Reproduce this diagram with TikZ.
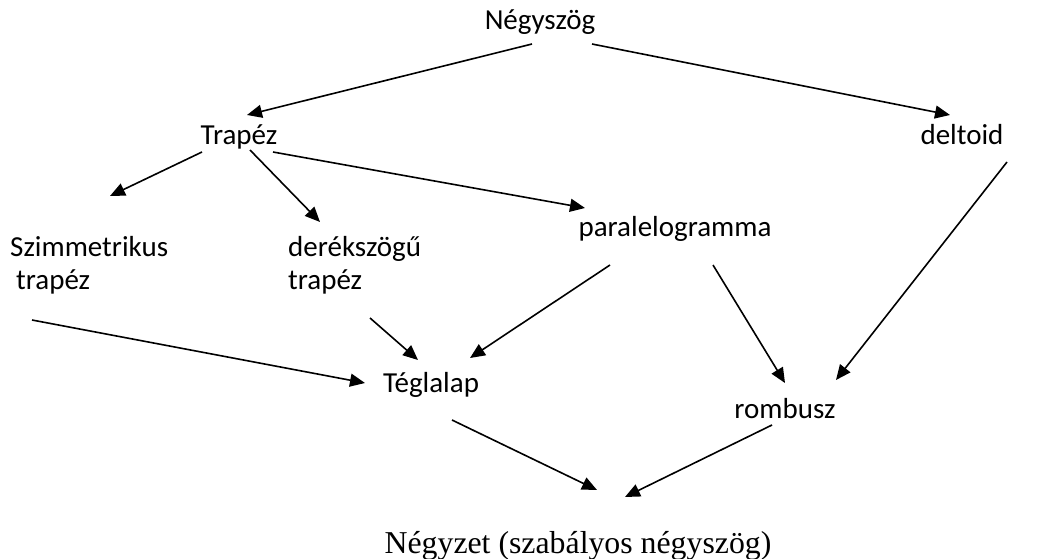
\documentclass[tikz,border=0pt]{standalone}
\usepackage{fontspec}
\setmainfont{Carlito}
\newfontfamily\timesfont{Liberation Serif}
\usetikzlibrary{arrows.meta}

\begin{document}
\begin{tikzpicture}[x=1pt, y=-1pt,
	lbl/.style={inner sep=0pt, font=\fontsize{29}{33}\selectfont, align=left},
	arr/.style={line width=1.6pt, -{Triangle[length=15pt, width=13pt]}}]
		%%%%% START %%%%%
		\useasboundingbox (0, 0) rectangle (1039, 559);
		
		\node[lbl, anchor=base] (negyszog) at (540, 30) {Négyszög};
		\node[lbl, anchor=base] (trapez) at (239, 145) {Trapéz};
		\node[lbl, anchor=base] (deltoid) at (962, 145) {deltoid};
		
		\node[lbl, anchor=north west] (szimm) at (10, 236) {Szimmetrikus\\\hspace{6pt}trapéz};
		\node[lbl, anchor=north west] (derek) at (288, 236) {derékszögű\\trapéz};
		\node[lbl, anchor=base] (para) at (675, 236) {paralelogramma};
		
		\node[lbl, anchor=base] (teglalap) at (431, 392) {Téglalap};
		\node[lbl, anchor=base] (rombusz) at (785, 418) {rombusz};
		
		\node[inner sep=0pt, anchor=base, font=\timesfont\fontsize{31.8}{38}\selectfont] (negyzet) at (578, 553) {Négyzet (szabályos négyszög)};
		
		\draw[arr] ([shift={(-8, 14)}]negyszog.base) -- ([shift={(8, -30)}]trapez.base);
		\draw[arr] ([shift={(52, 14)}]negyszog.base) -- ([shift={(-12, -30)}]deltoid.base);
		
		\draw[arr] ([shift={(-37, 7)}]trapez.base) -- ([shift={(100, -40)}]szimm.north west);
		\draw[arr] ([shift={(11, 5)}]trapez.base) -- ([shift={(32, -14)}]derek.north west);
		\draw[arr] ([shift={(34, 7)}]trapez.base) -- ([shift={(-90, -28)}]para.base);
		\draw[arr] ([shift={(45, 17)}]deltoid.base) -- ([shift={(51, -38)}]rombusz.base);
		
		\draw[arr] ([shift={(-65, 29)}]para.base) -- ([shift={(39, -34)}]teglalap.base);
		\draw[arr] ([shift={(38, 29)}]para.base) -- ([shift={(0, -35)}]rombusz.base);
		\draw[arr] ([shift={(22, 84)}]szimm.north west) -- ([shift={(-66, -9)}]teglalap.base);
		\draw[arr] ([shift={(82, 82)}]derek.north west) -- ([shift={(-13, -32)}]teglalap.base);
		
		\draw[arr] ([shift={(21, 28)}]teglalap.base) -- ([shift={(19, -63)}]negyzet.base);
		\draw[arr] ([shift={(-13, 7)}]rombusz.base) -- ([shift={(47, -56)}]negyzet.base);
		
		%%%%% END %%%%%
	\end{tikzpicture}
\end{document}
